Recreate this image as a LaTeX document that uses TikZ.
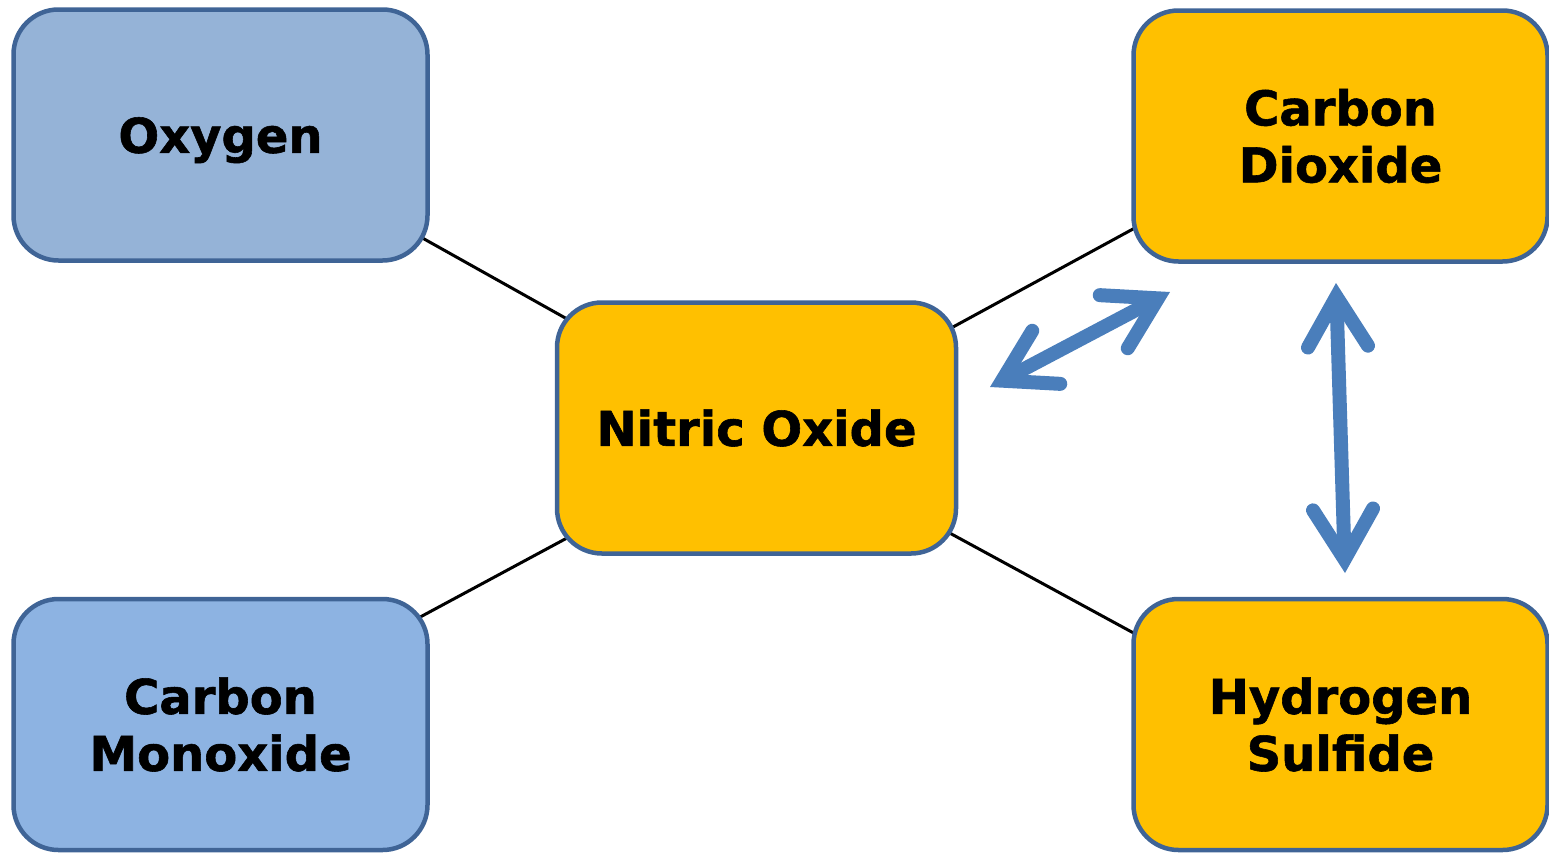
\documentclass[tikz,border=0pt]{standalone}
\usepackage{fontspec}
\setmainfont{DejaVu Sans}[BoldFeatures={FakeBold=1.2}]
\usetikzlibrary{arrows.meta,backgrounds,calc}
\definecolor{bordc}{HTML}{3F6496}
\definecolor{oxyfill}{HTML}{95B3D7}
\definecolor{cofill}{HTML}{8DB3E2}
\definecolor{orfill}{HTML}{FFC000}
\definecolor{arrc}{HTML}{4A7EBB}
\tikzset{
  gasbox/.style={draw=bordc, line width=4.5pt, rectangle, rounded corners=45pt,
    minimum width=414pt, minimum height=251pt, align=center, inner sep=0pt,
    font=\fontsize{48}{57}\selectfont\bfseries},
  nobox/.style={gasbox, minimum width=399pt},
  link/.style={line width=3pt, black},
  bigarrow/.style={line width=14pt, arrc,
    {Straight Barb[length=50pt, width=60pt, line cap=round, line join=miter]}-{Straight Barb[length=50pt, width=60pt, line cap=round, line join=miter]}}
}
\begin{document}
\begin{tikzpicture}[x=1pt,y=-1pt]
\useasboundingbox (0,0) rectangle (1549,852);
\node[gasbox, fill=oxyfill, text depth=0pt] (oxy) at (220.5,135) {Oxygen};
\node[gasbox, fill=cofill] (co) at (220.5,724.5) {Carbon\\Monoxide};
\node[nobox, fill=orfill] (no) at (756.5,428) {Nitric Oxide};
\node[gasbox, fill=orfill] (co2) at (1340.5,136) {Carbon\\Dioxide};
\node[gasbox, fill=orfill] (hs) at (1340.5,724.5) {Hydrogen\\Sulfide};
\begin{pgfonlayer}{background}
\draw[link] ($(oxy.center)+(0,-10)$) -- ($(no.center)+(0,-3)$);
\draw[link] (co.center) -- ($(no.center)+(0,8)$);
\draw[link] ($(co2.center)+(0,-20)$) -- ($(no.center)+(0,6)$);
\draw[link] ($(hs.center)+(0,21)$) -- (no.center);
\end{pgfonlayer}
\coordinate (a1) at (990,387);
\coordinate (b1) at (1170,292);
\coordinate (a2) at (1336,283);
\coordinate (b2) at (1345,573);
\draw[bigarrow] (a1) -- (b1);
\draw[bigarrow] (a2) -- (b2);
\end{tikzpicture}
\end{document}
